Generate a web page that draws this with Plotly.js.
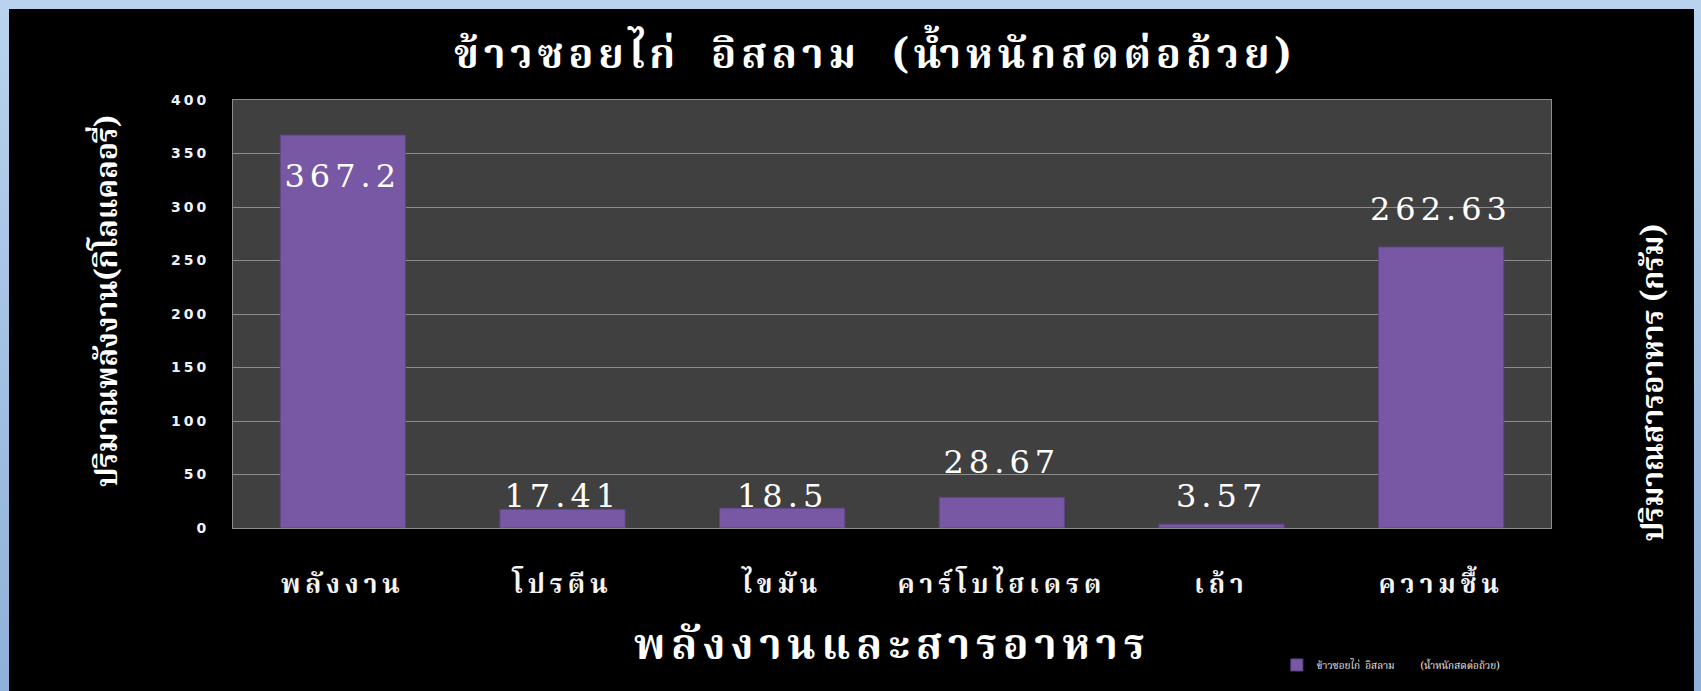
<!DOCTYPE html>
<html>
<head>
<meta charset="utf-8">
<script src="https://cdn.plot.ly/plotly-3.0.1.min.js"></script>
<style>
  html, body { margin: 0; padding: 0; width: 1701px; height: 691px; overflow: hidden;
    background: linear-gradient(#b9d3ef, #8fb0d8); }
  #chart { position: absolute; left: 9px; top: 9px; width: 1685px; height: 682px; background: #000; }
  #chart .gtitle { letter-spacing: 5px; }
  #chart .xtick text { letter-spacing: 5px; }
  #chart .ytick text { letter-spacing: 3px; }
  #chart .annotation[data-index="0"] text, #chart .annotation[data-index="1"] text,
  #chart .annotation[data-index="2"] text, #chart .annotation[data-index="3"] text,
  #chart .annotation[data-index="4"] text, #chart .annotation[data-index="5"] text { letter-spacing: 5px; }
  #chart .annotation[data-index="8"] text { letter-spacing: 6px; }
</style>
</head>
<body>
<div id="chart"></div>
<script>
// ---- data ----
const categories = ["พลังงาน", "โปรตีน", "ไขมัน", "คาร์โบไฮเดรต", "เถ้า", "ความชื้น"];
const values = [367.2, 17.41, 18.5, 28.67, 3.57, 262.63];
const labels = ["367.2", "17.41", "18.5", "28.67", "3.57", "262.63"];
const yTicks = [0, 50, 100, 150, 200, 250, 300, 350, 400];
const seriesName = "ข้าวซอยไก่  อิสลาม          (น้ำหนักสดต่อถ้วย)";
const chartTitle = "ข้าวซอยไก่  อิสลาม  (น้ำหนักสดต่อถ้วย)";
const xTitle = "พลังงานและสารอาหาร";
const yTitleLeft = "ปริมาณพลังงาน(กิโลแคลอรี่)";
const yTitleRight = "ปริมาณสารอาหาร (กรัม)";

// label pixel offsets (style only)
const labelShift = [-41, 13, 12, 35, 28, 38];

const thaiFont = "'Noto Serif Thai', 'Noto Sans Thai', Norasi, Garuda, Loma, 'Liberation Serif', serif";

const trace = {
  type: "bar",
  x: categories,
  y: values,
  name: seriesName,
  marker: { color: "#7857a5", line: { color: "#5f4487", width: 1 } },
  hoverinfo: "x+y"
};

const annotations = values.map((v, i) => ({
  x: categories[i], y: v, xref: "x", yref: "y",
  text: labels[i], showarrow: false,
  yanchor: "middle", xanchor: "center", yshift: labelShift[i],
  font: { family: "'DejaVu Serif', 'Liberation Serif', serif", size: 32, color: "#ffffff" }
}));

annotations.push(
  { xref: "paper", yref: "paper", x: -0.094, y: 0.53, text: yTitleLeft, textangle: -90,
    showarrow: false, xanchor: "center", yanchor: "middle",
    font: { family: thaiFont, size: 30, color: "#ffffff", weight: "bold" } },
  { xref: "paper", yref: "paper", x: 1.079, y: 0.34, text: yTitleRight, textangle: -90,
    showarrow: false, xanchor: "center", yanchor: "middle",
    font: { family: thaiFont, size: 30, color: "#ffffff", weight: "bold" } },
  { xref: "paper", yref: "paper", x: 0.5, y: -0.28, text: xTitle,
    showarrow: false, xanchor: "center", yanchor: "middle",
    font: { family: thaiFont, size: 42, color: "#ffffff", weight: "bold" } }
);

const layout = {
  width: 1685, height: 682,
  paper_bgcolor: "#000000",
  plot_bgcolor: "#404040",
  margin: { l: 224, r: 143, t: 91, b: 163 },
  title: {
    text: chartTitle, x: 0.514, xanchor: "center", y: 0.934, yanchor: "middle",
    font: { family: thaiFont, size: 41, color: "#ffffff", weight: "bold" }
  },
  bargap: 0.43,
  xaxis: {
    type: "category",
    showgrid: false, zeroline: false,
    showline: true, linecolor: "#8c8c8c", linewidth: 1, mirror: true,
    ticks: "", ticklabelstandoff: 33,
    tickfont: { family: thaiFont, size: 26, color: "#f4f4f4", weight: "bold" }
  },
  yaxis: {
    range: [0, 400], tickvals: yTicks, ticktext: yTicks.map(String),
    showgrid: true, gridcolor: "#8c8c8c", gridwidth: 1,
    zeroline: false, showline: true, linecolor: "#8c8c8c", linewidth: 1, mirror: true,
    ticks: "", ticklabelstandoff: 20,
    tickfont: { family: "'DejaVu Sans', Verdana, sans-serif", size: 14, color: "#eef3fa", weight: "bold" }
  },
  showlegend: true,
  legend: {
    orientation: "h", x: 0.792, xanchor: "left", y: -0.32, yanchor: "middle",
    bgcolor: "rgba(0,0,0,0)",
    font: { family: thaiFont, size: 10, color: "#e8e8e8" }
  },
  annotations: annotations
};

Plotly.newPlot("chart", [trace], layout, { displayModeBar: false });
</script>
</body>
</html>
